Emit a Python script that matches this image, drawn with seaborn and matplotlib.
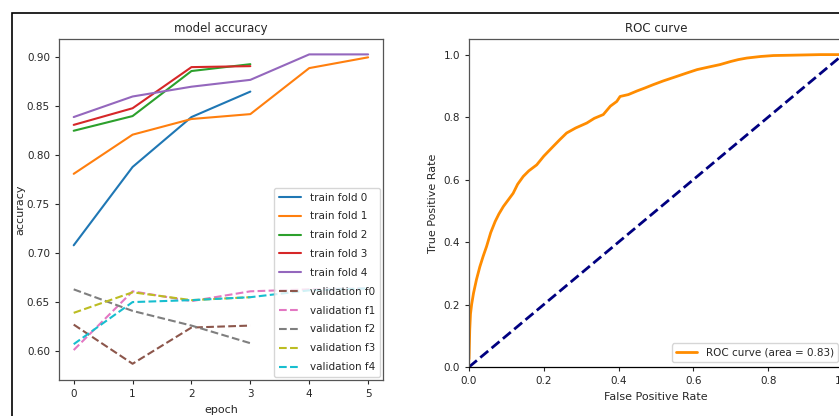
import matplotlib
matplotlib.use("Agg")
import matplotlib.pyplot as plt
import seaborn as sns
import numpy as np
from matplotlib.patches import Rectangle

sns.set_style("ticks")
plt.rcParams['font.family'] = ['DejaVu Sans']

# ---- data: model accuracy ----
train_fold0 = [0.708, 0.788, 0.839, 0.865]
train_fold1 = [0.781, 0.821, 0.837, 0.842, 0.889, 0.900]
train_fold2 = [0.825, 0.840, 0.886, 0.893]
train_fold3 = [0.831, 0.848, 0.890, 0.891]
train_fold4 = [0.839, 0.860, 0.870, 0.877, 0.903, 0.903]
val_f0 = [0.627, 0.587, 0.624, 0.626]
val_f1 = [0.601, 0.661, 0.651, 0.661, 0.663, 0.664]
val_f2 = [0.663, 0.641, 0.626, 0.608]
val_f3 = [0.639, 0.660, 0.652, 0.655]
val_f4 = [0.607, 0.650, 0.652, 0.655, 0.662, 0.664]

train_labels = ["train fold 0", "train fold 1", "train fold 2", "train fold 3", "train fold 4"]
val_labels = ["validation f0", "validation f1", "validation f2", "validation f3", "validation f4"]

# ---- data: ROC curve ----
fpr = [0.0, 0.0, 0.002, 0.004, 0.007, 0.012, 0.020, 0.029, 0.038, 0.047, 0.058, 0.070,
       0.080, 0.092, 0.105, 0.118, 0.130, 0.145, 0.160, 0.181, 0.200, 0.225, 0.243, 0.261,
       0.285, 0.315, 0.335, 0.359, 0.378, 0.395, 0.404, 0.426, 0.450, 0.470, 0.493,
       0.520, 0.550, 0.582, 0.610, 0.640, 0.671, 0.700, 0.720, 0.743, 0.780, 0.814,
       0.860, 0.900, 0.940, 0.983, 1.0]
tpr = [0.0, 0.05, 0.12, 0.17, 0.20, 0.236, 0.28, 0.321, 0.355, 0.386, 0.43, 0.466,
       0.49, 0.514, 0.535, 0.556, 0.585, 0.610, 0.628, 0.647, 0.675, 0.706, 0.728, 0.749,
       0.765, 0.781, 0.796, 0.808, 0.835, 0.850, 0.866, 0.872, 0.884, 0.893, 0.904,
       0.916, 0.928, 0.941, 0.952, 0.960, 0.968, 0.978, 0.984, 0.989, 0.994, 0.997,
       0.998, 0.999, 1.0, 1.0, 1.0]
roc_auc = 0.83

fig = plt.figure(figsize=(8.39, 4.16), dpi=100)
ax1 = fig.add_axes([0.0703, 0.0865, 0.386, 0.8197])
ax2 = fig.add_axes([0.559, 0.1178, 0.4458, 0.7885])

pal = sns.color_palette("tab10")
for i, (lab, vals) in enumerate(zip(train_labels,
                                    [train_fold0, train_fold1, train_fold2, train_fold3, train_fold4])):
    sns.lineplot(x=np.arange(len(vals)), y=vals, ax=ax1, color=pal[i], label=lab, lw=1.5)
for i, (lab, vals) in enumerate(zip(val_labels, [val_f0, val_f1, val_f2, val_f3, val_f4])):
    sns.lineplot(x=np.arange(len(vals)), y=vals, ax=ax1, color=pal[i + 5], label=lab,
                 lw=1.5, linestyle="--")

ax1.set_xlim(-0.25, 5.25)
ax1.set_ylim(0.5704, 0.9187)
ax1.set_xticks(range(6))
ax1.set_yticks([0.60, 0.65, 0.70, 0.75, 0.80, 0.85, 0.90])
ax1.set_yticklabels(["0.60", "0.65", "0.70", "0.75", "0.80", "0.85", "0.90"])
ax1.set_title("model accuracy", fontsize=8.5, pad=5)
ax1.set_xlabel("epoch", fontsize=8)
ax1.set_ylabel("accuracy", fontsize=8, labelpad=1)
ax1.tick_params(labelsize=7.5, length=3)
ax1.legend(loc="lower right", fontsize=7.5, frameon=True, framealpha=0.8, handlelength=2.2,
           borderpad=0.45, labelspacing=0.85, borderaxespad=0.3)

sns.lineplot(x=fpr, y=tpr, ax=ax2, color="darkorange", lw=2, sort=False,
             label="ROC curve (area = %0.2f)" % roc_auc)
sns.lineplot(x=[0, 1], y=[0, 1], ax=ax2, color="navy", lw=2, linestyle="--")
ax2.set_xlim(0.0, 1.0)
ax2.set_ylim(0.0, 1.05)
ax2.set_xticks([0.0, 0.2, 0.4, 0.6, 0.8, 1.0])
ax2.set_yticks([0.0, 0.2, 0.4, 0.6, 0.8, 1.0])
ax2.set_title("ROC curve", fontsize=8.5, pad=5)
ax2.set_xlabel("False Positive Rate", fontsize=8)
ax2.set_ylabel("True Positive Rate", fontsize=8)
ax2.tick_params(labelsize=7.5, length=3)
handles, labels = ax2.get_legend_handles_labels()
ax2.legend(handles[:1], labels[:1], loc="lower right", fontsize=7.5, framealpha=0.8)

for ax in (ax1, ax2):
    for s in ax.spines.values():
        s.set_color("#555555")
        s.set_linewidth(0.9)
ax2.spines["bottom"].set_color("black")

fig.add_artist(Rectangle((12 / 839, -0.1), 1.2, 1.1 - 13 / 416, transform=fig.transFigure,
                         fill=False, edgecolor="black", lw=1.2))

fig.savefig("out.png", dpi=100)
